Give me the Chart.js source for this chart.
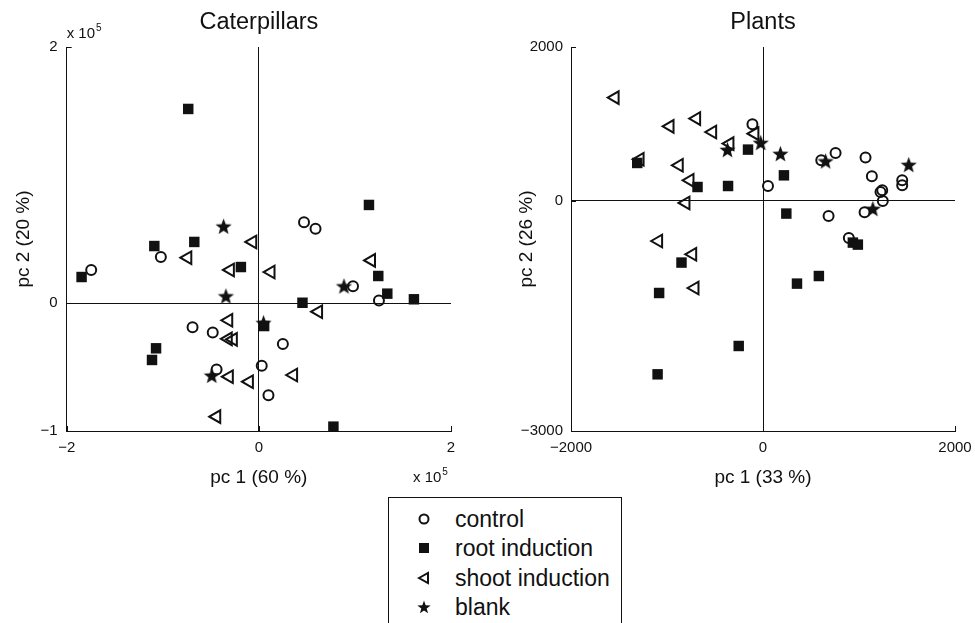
<!DOCTYPE html>
<html>
<head>
<meta charset="utf-8">
<script src="https://cdn.jsdelivr.net/npm/chart.js@4"></script>
<style>
html,body{margin:0;padding:0;background:#fff;width:975px;height:623px;overflow:hidden;font-family:"Liberation Sans",Arial,Helvetica,sans-serif;color:#111;}
#c1{position:absolute;left:0;top:0;}
#c2{position:absolute;left:480px;top:0;}
#legend{position:absolute;left:388px;top:497px;width:234px;height:150px;border:1.5px solid #111;box-sizing:border-box;background:#fff;}
.row{position:absolute;left:0;width:230px;height:30px;line-height:30px;font-size:23px;white-space:nowrap;}
.row svg{position:absolute;left:27px;top:7px;}
.row span{position:absolute;left:66px;top:0;}
</style>
</head>
<body>
<canvas id="c1" width="480" height="501"></canvas>
<canvas id="c2" width="500" height="501"></canvas>
<div id="legend">
  <div class="row" style="top:6px"><svg width="16" height="16" viewBox="0 0 16 16"><circle cx="8" cy="8" r="4.5" fill="none" stroke="#111" stroke-width="2"/></svg><span>control</span></div>
  <div class="row" style="top:35px"><svg width="16" height="16" viewBox="0 0 16 16"><rect x="3" y="3" width="10" height="10" fill="#111"/></svg><span>root induction</span></div>
  <div class="row" style="top:64.5px"><svg width="16" height="16" viewBox="0 0 16 16"><polygon points="3,8 12,3 12,13" fill="none" stroke="#111" stroke-width="2" stroke-linejoin="miter"/></svg><span>shoot induction</span></div>
  <div class="row" style="top:94px"><svg width="16" height="16" viewBox="0 0 16 16"><polygon id="legstar" fill="#111"/></svg><span>blank</span></div>
</div>
<script>
// ---------- DATA ----------
// Caterpillars (values in units of 10^5)
const catControlX = [-1.745, -1.02, 0.47, 0.59, 0.98, 1.25, -0.69, -0.48, -0.44, 0.25, 0.03, 0.10];
const catControlY = [0.258, 0.36, 0.63, 0.58, 0.13, 0.02, -0.19, -0.23, -0.52, -0.32, -0.49, -0.72];
const catRootX = [-0.735, -1.845, -1.088, -0.672, -0.187, -1.07, -1.112, 1.243, 0.454, 1.337, 1.614, 0.055, 0.776, 1.146];
const catRootY = [1.516, 0.203, 0.445, 0.477, 0.281, -0.354, -0.445, 0.211, 0.002, 0.073, 0.029, -0.18, -0.966, 0.766];
const catShootX = [-0.741, -0.065, -0.298, -0.315, -0.32, -0.267, -0.309, -0.10, -0.44, 0.125, 1.171, 0.62, 0.36];
const catShootY = [0.354, 0.477, 0.258, -0.135, -0.28, -0.284, -0.576, -0.615, -0.888, 0.242, 0.333, -0.068, -0.5625];
const catBlankX = [-0.367, -0.343, -0.49, 0.886, 0.049];
const catBlankY = [0.60, 0.055, -0.565, 0.133, -0.154];
const catXTicks = [-2, 0, 2];
const catYTicks = [-1, 0, 2];

// Plants
const plControlX = [-110, 52, 607, 756, 683, 1068, 1134, 1224, 1242, 1248, 1058, 1450, 1450, 894];
const plControlY = [993, 190, 525, 620, -200, 560, 316, 112, 134, -5, -152, 264, 199, -487];
const plRootX = [-156, -1310, -682, -364, 218, 243, 936, 988, 582, 354, -849, -1082, -253, -1098];
const plRootY = [664, 490, 177, 190, 329, -169, -547, -573, -982, -1081, -807, -1203, -1893, -2262];
const plShootX = [-1542, -970, -693, -526, -346, -86, -1282, -874, -762, -804, -1089, -734, -710];
const plShootY = [1341, 967, 1068, 893, 742, 872, 538, 460, 264, -31, -526, -699, -1138];
const plBlankX = [-370, -24, 181, 652, 1144, 1518];
const plBlankY = [664, 755, 612, 516, -104, 469];
const plXTicks = [-2000, 0, 2000];
const plYTicks = [-3000, 0, 2000];

// ---------- HELPERS ----------
const FAM = '"Liberation Sans", Arial, Helvetica, sans-serif';
const INK = '#111';
Chart.defaults.font.family = FAM;
Chart.defaults.color = INK;

function starPoints(cx, cy, R, r) {
  const pts = [];
  for (let i = 0; i < 10; i++) {
    const a = -Math.PI / 2 + i * Math.PI / 5;
    const rad = i % 2 === 0 ? R : r;
    pts.push([cx + rad * Math.cos(a), cy + rad * Math.sin(a)]);
  }
  return pts;
}
function makeStar(R) {
  const c = document.createElement('canvas');
  const s = Math.ceil(R * 2 + 2);
  c.width = s; c.height = s;
  const g = c.getContext('2d');
  g.fillStyle = INK;
  g.beginPath();
  starPoints(s / 2, s / 2 + R * 0.1, R, R * 0.42).forEach((p, i) => i ? g.lineTo(p[0], p[1]) : g.moveTo(p[0], p[1]));
  g.closePath(); g.fill();
  return c;
}
document.getElementById('legstar').setAttribute('points',
  starPoints(8, 8.6, 7, 2.8).map(p => p[0].toFixed(2) + ',' + p[1].toFixed(2)).join(' '));

const starImg = makeStar(8.5);
const zip = (xs, ys) => xs.map((x, i) => ({x, y: ys[i]}));
const fmt = v => (v < 0 ? '\u2212' + Math.abs(v) : String(v));

function datasets(cx, cy, rx, ry, sx, sy, bx, by) {
  return [
    {label: 'control', data: zip(cx, cy), pointStyle: 'circle', pointRadius: 5, borderWidth: 2,
     borderColor: INK, backgroundColor: 'rgba(0,0,0,0)'},
    {label: 'root induction', data: zip(rx, ry), pointStyle: 'rect', pointRadius: 7.4, borderWidth: 0,
     borderColor: INK, backgroundColor: INK},
    {label: 'shoot induction', data: zip(sx, sy), pointStyle: 'triangle', pointRotation: -90, pointRadius: 7.3,
     borderWidth: 2, borderColor: INK, backgroundColor: 'rgba(0,0,0,0)'},
    {label: 'blank', data: zip(bx, by), pointStyle: starImg, pointRadius: 8, borderWidth: 0,
     borderColor: INK, backgroundColor: INK}
  ].map(d => Object.assign(d, {clip: false, showLine: false}));
}

const inTicks = {
  id: 'inTicks',
  afterDraw(chart) {
    const {ctx, chartArea: a, scales: {x, y}} = chart;
    ctx.save();
    ctx.strokeStyle = INK; ctx.lineWidth = 1;
    ctx.beginPath();
    x.ticks.forEach(t => { const p = Math.round(x.getPixelForValue(t.value)) + 0.5; ctx.moveTo(p, a.bottom); ctx.lineTo(p, a.bottom - 5); });
    y.ticks.forEach(t => { const p = Math.round(y.getPixelForValue(t.value)) + 0.5; ctx.moveTo(a.left, p); ctx.lineTo(a.left + 5, p); });
    ctx.stroke();
    ctx.restore();
  }
};
const sciLabel = {
  id: 'sciLabel',
  afterDraw(chart, args, opts) {
    if (!opts.show) return;
    const {ctx, chartArea: a} = chart;
    ctx.save();
    ctx.fillStyle = INK; ctx.textAlign = 'left'; ctx.textBaseline = 'alphabetic';
    const draw = (x, y) => {
      ctx.font = '15px ' + FAM;
      ctx.fillText('x 10', x, y);
      const w = ctx.measureText('x 10').width;
      ctx.font = '10px ' + FAM;
      ctx.fillText(opts.exp, x + w + 1, y - 7);
    };
    draw(a.left, a.top - 9);
    draw(a.right - 38, a.bottom + 51);
    ctx.restore();
  }
};

function makeChart(id, ds, cfg) {
  const gridColor = c => (c.tick && c.tick.value === 0 ? INK : 'rgba(0,0,0,0)');
  return new Chart(document.getElementById(id), {
    type: 'scatter',
    data: {datasets: ds},
    plugins: [inTicks, sciLabel],
    options: {
      responsive: false, animation: false, events: [],
      layout: {padding: {left: 0, top: 0, right: cfg.padRight, bottom: 0}},
      plugins: {
        legend: {display: false}, tooltip: {enabled: false},
        title: {display: true, text: cfg.title, fullSize: false, color: INK,
                font: {size: 23.5, weight: 'normal', family: FAM}, padding: {top: 8.4, bottom: 10.4}},
        sciLabel: {show: cfg.sci, exp: '5'}
      },
      scales: {
        x: {
          type: 'linear', min: cfg.xTicks[0], max: cfg.xTicks[cfg.xTicks.length - 1],
          afterBuildTicks: s => { s.ticks = cfg.xTicks.map(v => ({value: v})); },
          afterFit: s => { s.height = 70; },
          ticks: {font: {size: 15}, color: INK, padding: 8, maxRotation: 0, autoSkip: false, callback: fmt},
          grid: {drawTicks: false, color: gridColor, lineWidth: 1},
          border: {display: true, color: INK, width: 1},
          title: {display: true, text: cfg.xTitle, color: INK, font: {size: 19}, padding: {top: 0, bottom: 11.6}}
        },
        y: {
          type: 'linear', min: cfg.yTicks[0], max: cfg.yTicks[cfg.yTicks.length - 1],
          afterBuildTicks: s => { s.ticks = cfg.yTicks.map(v => ({value: v})); },
          afterFit: s => { s.width = cfg.yWidth; },
          ticks: {font: {size: 15}, color: INK, padding: cfg.yPad, autoSkip: false, callback: fmt},
          grid: {drawTicks: false, color: gridColor, lineWidth: 1},
          border: {display: true, color: INK, width: 1},
          title: {display: true, text: cfg.yTitle, color: INK, font: {size: 19}, padding: {top: cfg.yTitlePad, bottom: 0}}
        }
      }
    }
  });
}

makeChart('c1', datasets(catControlX, catControlY, catRootX, catRootY, catShootX, catShootY, catBlankX, catBlankY), {
  title: 'Caterpillars', xTitle: 'pc 1 (60 %)', yTitle: 'pc 2 (20 %)',
  xTicks: catXTicks, yTicks: catYTicks, padRight: 29, yWidth: 66.7, yPad: 9, yTitlePad: 12.6, sci: true
});
makeChart('c2', datasets(plControlX, plControlY, plRootX, plRootY, plShootX, plShootY, plBlankX, plBlankY), {
  title: 'Plants', xTitle: 'pc 1 (33 %)', yTitle: 'pc 2 (26 %)',
  xTicks: plXTicks, yTicks: plYTicks, padRight: 25, yWidth: 91, yPad: 8, yTitlePad: 35.6, sci: false
});
</script>
</body>
</html>
